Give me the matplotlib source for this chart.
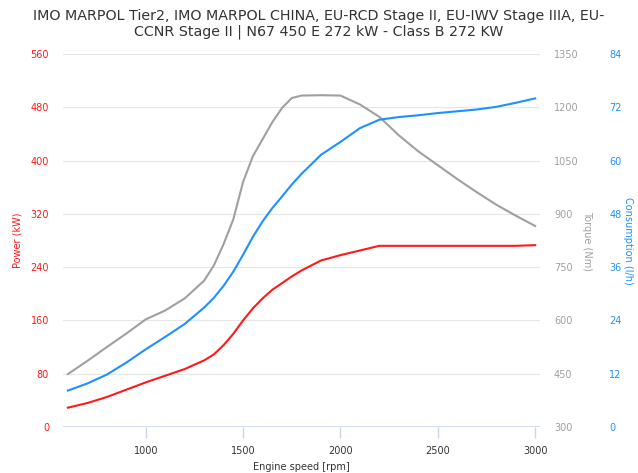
import matplotlib
matplotlib.use("Agg")
import matplotlib.pyplot as plt

rpm = [600, 700, 800, 900, 1000, 1100, 1200, 1300, 1350, 1400, 1450, 1500, 1550, 1600,
       1650, 1700, 1750, 1800, 1900, 2000, 2100, 2200, 2300, 2400, 2500, 2600, 2700,
       2800, 2900, 3000]

power = [29, 36, 45, 56, 67, 77, 87, 100, 109, 123, 140, 160, 178, 193,
         206, 216, 226, 235, 250, 258, 265, 272, 272, 272, 272, 272, 272,
         272, 272, 273]

torque = [449, 486, 525, 563, 603, 628, 662, 712, 755, 815, 885, 990, 1062, 1110,
          1158, 1198, 1226, 1233, 1234, 1233, 1208, 1173, 1121, 1076, 1037, 998, 961,
          926, 895, 866]

consumption = [8.2, 9.8, 11.8, 14.5, 17.5, 20.3, 23.2, 26.9, 29.1, 31.8, 35.0, 38.8, 42.8, 46.3,
               49.3, 51.9, 54.6, 57.0, 61.3, 64.2, 67.3, 69.2, 69.8, 70.2, 70.7, 71.1, 71.5,
               72.1, 73.0, 74.0]

x_ticks = [1000, 1500, 2000, 2500, 3000]
power_ticks = [0, 80, 160, 240, 320, 400, 480, 560]
torque_ticks = [300, 450, 600, 750, 900, 1050, 1200, 1350]
cons_ticks = [0, 12, 24, 36, 48, 60, 72, 84]

RED = "#ff1a1a"
BLUE = "#1e90ff"
GRAY = "#a0a0a0"
W, H = 638, 473

fig = plt.figure(figsize=(W / 100, H / 100), dpi=100)
ax = fig.add_axes([63 / W, (H - 427) / H, (540 - 63) / W, (427 - 54) / H])
ax2 = ax.twinx()
ax3 = ax.twinx()

for a in (ax, ax2, ax3):
    for s in a.spines.values():
        s.set_visible(False)

ax.plot(rpm, power, color=RED, lw=1.5, zorder=3)
ax2.plot(rpm, torque, color=GRAY, lw=1.5)
ax3.plot(rpm, consumption, color=BLUE, lw=1.5)

ax.set_xlim(575, 3025)
ax.set_ylim(0, 560)
ax2.set_ylim(300, 1350)
ax3.set_ylim(0, 84)

ax.set_yticks(power_ticks)
ax2.set_yticks(torque_ticks)
ax3.set_yticks(cons_ticks)
ax.set_xticks(x_ticks)

ax.grid(axis="y", color="#e6e6e6", lw=0.8)
ax.set_axisbelow(True)
ax.axhline(0, color="#ccd6eb", lw=1.2, zorder=2)

ax.tick_params(axis="y", length=0, pad=10, labelsize=7, labelcolor=RED)
ax2.tick_params(axis="y", length=0, pad=10, labelsize=7, labelcolor=GRAY)
ax3.spines["right"].set_position(("outward", 40))
ax3.tick_params(axis="y", length=0, pad=10, labelsize=7, labelcolor=BLUE)
ax.tick_params(axis="x", length=8, width=1, color="#ccd6eb", pad=6,
               labelsize=7, labelcolor="#333333")

ax.set_ylabel("Power (kW)", color=RED, fontsize=7, labelpad=6)
ax2.set_ylabel("Torque (Nm)", color=GRAY, fontsize=7, rotation=270, labelpad=10)
ax3.set_ylabel("Consumption (l/h)", color=BLUE, fontsize=7, rotation=270, labelpad=8)
ax.set_xlabel("Engine speed [rpm]", color="#333333", fontsize=7, labelpad=4)

fig.suptitle("IMO MARPOL Tier2, IMO MARPOL CHINA, EU-RCD Stage II, EU-IWV Stage IIIA, EU-\n"
             "CCNR Stage II | N67 450 E 272 kW - Class B 272 KW",
             y=0.982, fontsize=10.3, color="#333333", linespacing=1.2)

fig.savefig("out.png", dpi=100)
